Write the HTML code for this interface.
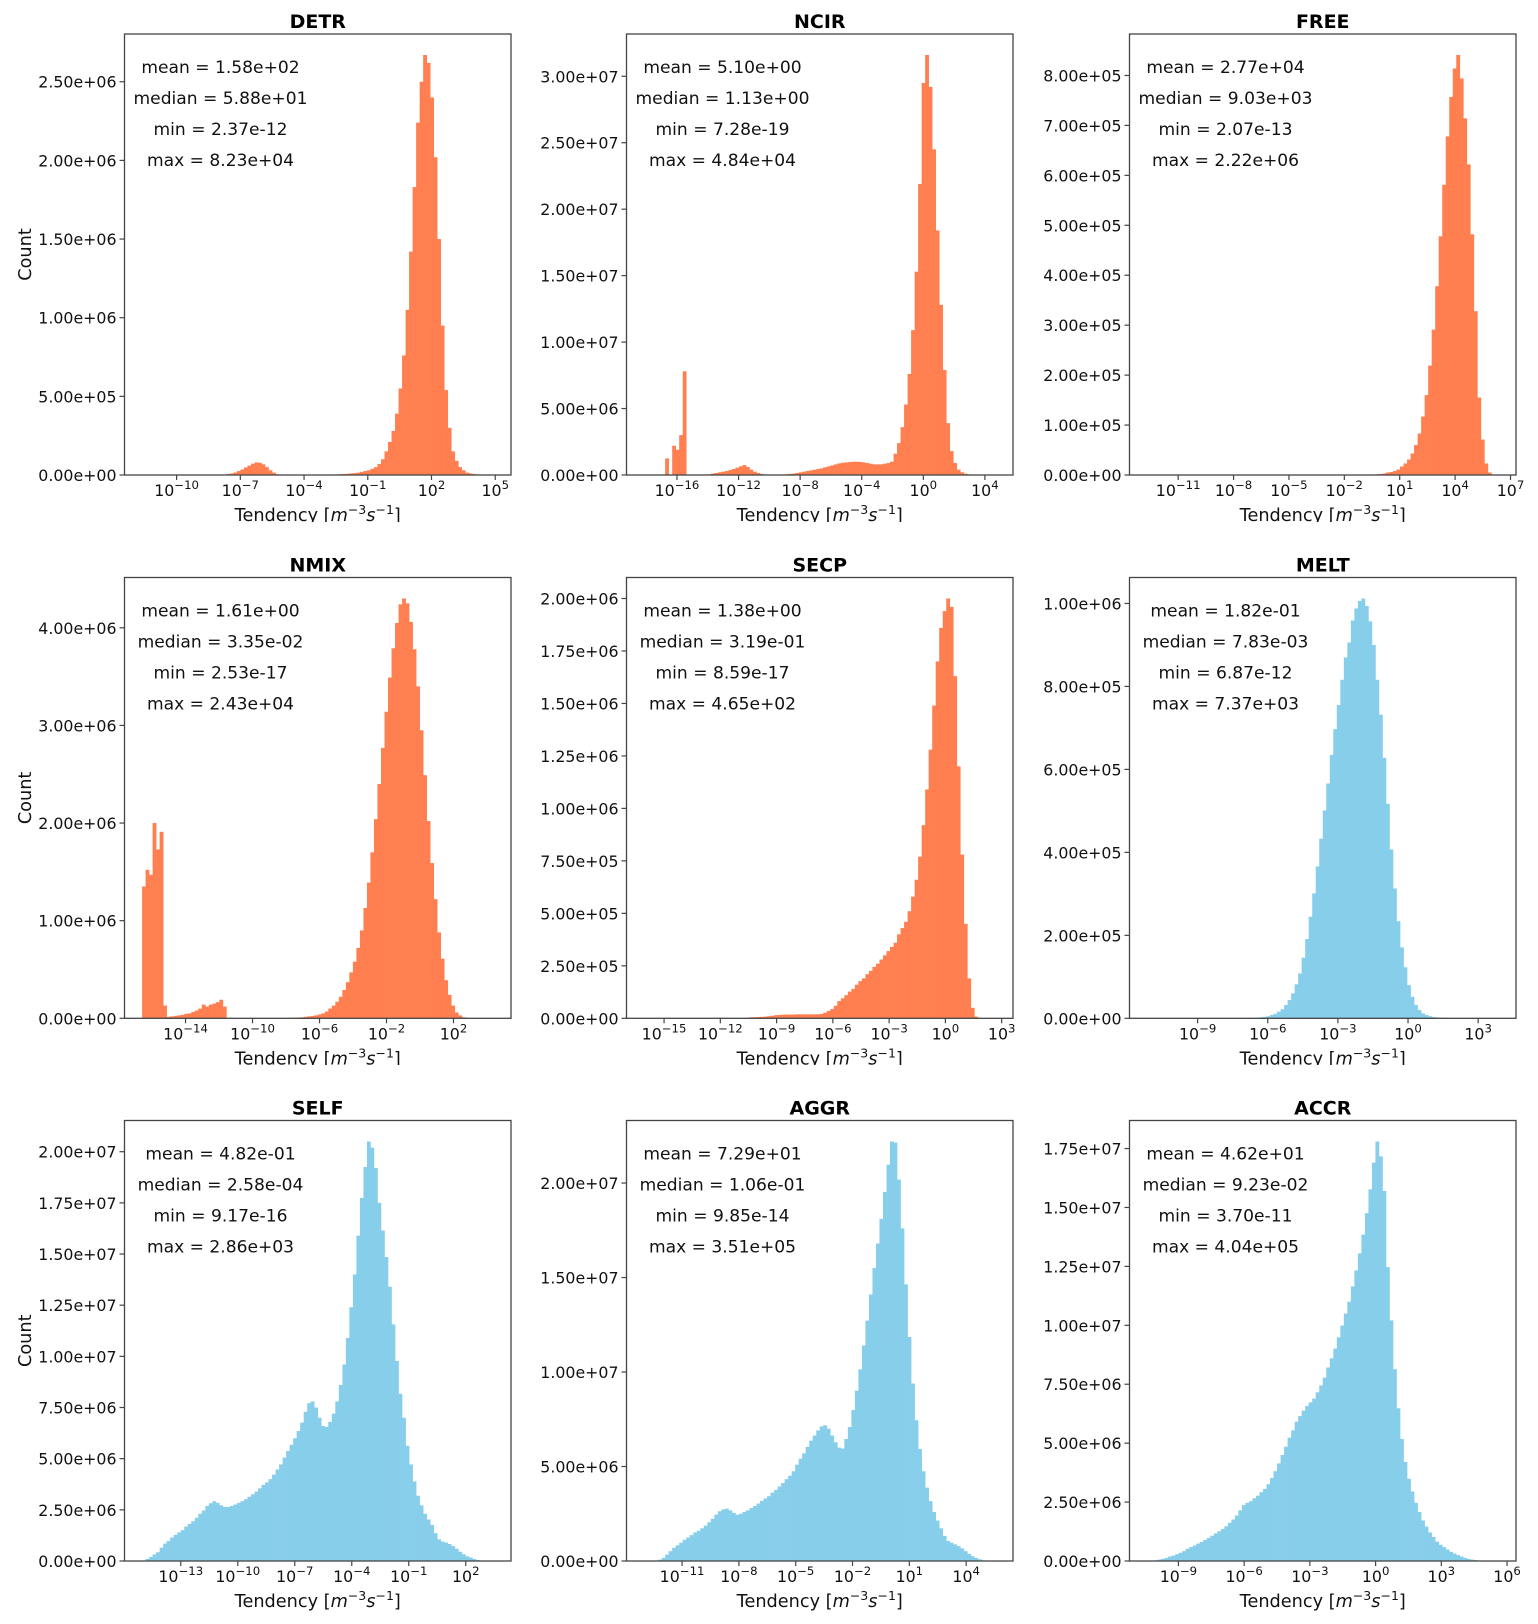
<!DOCTYPE html>
<html>
<head>
<meta charset="utf-8">
<style>
html,body{margin:0;padding:0;background:#fff;}
svg{display:block;font-family:"DejaVu Sans","Liberation Sans",sans-serif;}
</style>
</head>
<body>
<svg id="fig" width="1538" height="1624" viewBox="0 0 1538 1624" xmlns="http://www.w3.org/2000/svg"></svg>
<script>
// ---- data (counts per bin, 100 log-spaced bins between min and max) ----
const titles = ["DETR","NCIR","FREE","NMIX","SECP","MELT","SELF","AGGR","ACCR"];
const statMean   = ["1.58e+02","5.10e+00","2.77e+04","1.61e+00","1.38e+00","1.82e-01","4.82e-01","7.29e+01","4.62e+01"];
const statMedian = ["5.88e+01","1.13e+00","9.03e+03","3.35e-02","3.19e-01","7.83e-03","2.58e-04","1.06e-01","9.23e-02"];
const statMin    = ["2.37e-12","7.28e-19","2.07e-13","2.53e-17","8.59e-17","6.87e-12","9.17e-16","9.85e-14","3.70e-11"];
const statMax    = ["8.23e+04","4.84e+04","2.22e+06","2.43e+04","4.65e+02","7.37e+03","2.86e+03","3.51e+05","4.04e+05"];
const countScale = [1e6,1e7,1e5,1e6,1e6,1e5,1e6,1e6,1e6];
const yTickStep  = [5e5,5e6,1e5,1e6,2.5e5,2e5,2.5e6,5e6,2.5e6];
const xTickExps = [
  [-10,-7,-4,-1,2,5],
  [-16,-12,-8,-4,0,4],
  [-11,-8,-5,-2,1,4,7],
  [-14,-10,-6,-2,2],
  [-15,-12,-9,-6,-3,0,3],
  [-9,-6,-3,0,3],
  [-13,-10,-7,-4,-1,2],
  [-11,-8,-5,-2,1,4],
  [-9,-6,-3,0,3,6]
];
const z = n => Array(n).fill(0);
const detrCounts = [...z(23),
  .003,.006,.01,.016,.025,.035,.048,.06,.072,.08,.078,.068,.05,.03,.015,.005,
  ...z(13),
  .001,.002,.003,.004,.005,.006,.008,.01,.012,.015,.02,.025,.03,.04,.05,.07,.10,.15,.21,.28,.39,.55,.76,1.05,1.42,1.83,2.24,2.5,2.67,2.62,2.4,2.02,1.5,.95,.54,.3,.15,.09,.05,.03,.015,.01,.006,.004,.002,.001,.0005,.0005];
const ncirCounts = [...z(6), .125,0,.22,.19,.3,.78, ...z(6),
  .005,.01,.015,.02,.025,.03,.037,.045,.055,.065,.075,.06,.04,.025,.015,.008,.004,
  ...z(5),
  .005,.008,.01,.015,.02,.025,.03,.035,.04,.045,.05,.058,.065,.072,.08,.087,.092,.095,.097,.1,.1,.098,.095,.09,.085,.08,.08,.08,.085,.09,
  .1,.16,.24,.36,.53,.76,1.09,1.53,2.19,2.95,3.16,2.92,2.45,1.84,1.28,.79,.39,.18,.09,.04,.02,.01,.005,
  ...z(7)];
const freeCounts = [...z(63),
  .005,.01,.015,.02,.03,.05,.06,.08,.11,.17,.23,.31,.43,.6,.83,1.17,1.6,2.19,2.91,3.78,4.78,5.81,6.78,7.57,8.14,8.41,7.94,7.14,6.22,4.82,3.28,1.55,.71,.23,.05,.01,.005];
const nmixCounts = [1.35,1.52,1.47,2.0,1.73,1.91,.13,.015,.02,.025,.03,.035,.045,.05,.065,.08,.1,.14,.12,.14,.15,.165,.19,.12,
  ...z(16),
  .002,.003,.005,.006,.008,.01,.015,.02,.025,.03,.04,.05,.07,.10,.13,.17,.22,.29,.37,.47,.58,.72,.90,1.13,1.39,1.70,2.04,2.40,2.77,3.14,3.49,3.79,4.05,4.24,4.30,4.25,4.06,3.78,3.40,2.95,2.49,2.02,1.59,1.22,.88,.61,.39,.24,.13,.06,.03,.01,.005,
  ...z(7)];
const secpCounts = [...z(30),
  .005,.005,.006,.007,.008,.01,.012,.015,
  .016,.017,.018,.018,.018,.019,.019,.019,.019,.019,.019,
  .019,.021,.027,.035,.044,.06,.082,.095,.11,.127,.14,.16,.177,.19,.21,.226,.245,.26,.28,.30,.32,.34,.36,.40,.43,.46,.51,.58,.66,.77,.92,1.09,1.28,1.49,1.70,1.86,1.94,2.0,1.96,1.63,1.20,.78,.45,.19,.05,.008,
  ...z(5)];
const meltCounts = [...z(27),
  .002,.004,.006,.01,.015,.025,.035,.05,.08,.11,.16,.22,.32,.44,.60,.82,1.08,1.46,1.91,2.45,3.01,3.66,4.33,5.01,5.66,6.35,6.97,7.55,8.16,8.70,9.06,9.59,9.88,10.06,10.12,9.94,9.57,9.0,8.16,7.32,6.28,5.17,4.07,3.13,2.34,1.71,1.23,.80,.52,.32,.2,.12,.08,.05,.03,.02,.015,.01,.005,.003,
  ...z(13)];
const selfCounts = [.005,.1,.2,.32,.43,.65,.85,.98,1.15,1.28,1.4,1.51,1.68,1.81,1.94,2.11,2.31,2.47,2.69,2.82,2.92,2.84,2.72,2.64,2.64,2.69,2.76,2.84,2.92,3.02,3.14,3.26,3.39,3.55,3.72,3.84,4.0,4.22,4.47,4.72,5.05,5.38,5.68,6.0,6.35,6.76,7.29,7.71,7.8,7.5,7.0,6.6,6.55,
  6.8,7.2,7.8,8.6,9.6,10.9,12.4,14.0,15.9,17.74,19.25,20.5,20.2,19.2,17.5,16.15,14.85,13.4,11.56,9.78,8.17,7.0,5.63,4.72,3.89,3.19,2.72,2.31,2.03,1.76,1.36,1.06,.95,.9,.83,.73,.6,.45,.33,.23,.17,.1,.05,.02,.01,.005,.002];
const aggrCounts = [.002,.005,.01,.03,.07,.16,.34,.52,.7,.83,.97,1.12,1.24,1.37,1.51,1.6,1.73,1.87,2.05,2.23,2.45,2.63,2.73,2.77,2.68,2.55,2.45,2.5,2.59,2.68,2.8,2.91,3.04,3.18,3.31,3.43,3.62,3.76,3.94,4.12,4.33,4.51,4.75,5.1,5.41,5.7,6.04,6.37,6.64,6.91,7.12,7.18,7.0,6.64,6.28,6.0,5.95,6.46,7.09,7.99,9.01,10.14,11.4,12.72,14.1,15.5,16.8,18.1,19.53,20.97,22.2,22.14,20.18,17.6,14.64,11.85,9.39,7.45,5.92,4.75,3.88,3.17,2.59,2.14,1.73,1.33,1.06,.97,.88,.79,.67,.52,.38,.25,.16,.09,.04,.02,.01,.005];
const accrCounts = [.005,.01,.03,.06,.09,.13,.19,.23,.29,.35,.42,.52,.59,.66,.74,.81,.9,.98,1.07,1.17,1.26,1.36,1.47,1.62,1.76,1.93,2.15,2.37,2.47,2.54,2.66,2.77,2.92,3.06,3.26,3.52,3.81,4.14,4.5,4.85,5.23,5.54,5.91,6.15,6.38,6.58,6.73,6.89,7.16,7.45,7.78,8.21,8.6,9.01,9.49,9.99,10.5,11.0,11.65,12.33,13.05,13.85,14.76,15.77,16.9,17.8,17.17,15.7,12.47,10.21,8.14,6.48,5.18,4.2,3.49,2.95,2.47,2.08,1.72,1.46,1.21,1.02,.82,.69,.59,.49,.39,.32,.25,.19,.13,.09,.06,.04,.02,.01,.005,.003,0,0];
const allCounts = [detrCounts,ncirCounts,freeCounts,nmixCounts,secpCounts,meltCounts,selfCounts,aggrCounts,accrCounts];

// ---- layout ----
const colLeft = [124.5, 626.5, 1129.5];
const axW = 386.5;
const rowTop = [34, 577.5, 1120.5];
const rowBot = [475, 1018.3, 1561];
const ORANGE = "#FF7F50", BLUE = "#87CEEB";

const NS = "http://www.w3.org/2000/svg";
const svg = document.getElementById("fig");
function mk(tag, attrs, parent){
  const e = document.createElementNS(NS, tag);
  for (const k in attrs) e.setAttribute(k, attrs[k]);
  (parent || svg).appendChild(e);
  return e;
}
function fmtE(v){
  if (v === 0) return "0.00e+00";
  let s = v.toExponential(2);
  const m = s.match(/^(-?[\d.]+)e([+-])(\d+)$/);
  let ex = m[3]; if (ex.length < 2) ex = "0" + ex;
  return m[1] + "e" + m[2] + ex;
}
function sup(n){ return n < 0 ? "\u2212" + (-n) : "" + n; }

for (let p = 0; p < 9; p++){
  const r = Math.floor(p / 3), c = p % 3;
  const L = colLeft[c], R = L + axW, T = rowTop[r], B = rowBot[r];
  const counts = allCounts[p].map(v => v * countScale[p]);
  const lmin = Math.log10(parseFloat(statMin[p])), lmax = Math.log10(parseFloat(statMax[p]));
  const pad = (lmax - lmin) * 0.05;
  const x0 = lmin - pad, x1 = lmax + pad;
  const ymax = Math.max(...counts) * 1.05;
  const xs = lg => L + (lg - x0) / (x1 - x0) * axW;
  const ys = v => B - v / ymax * (B - T);
  const nb = counts.length, bw = (lmax - lmin) / nb;
  const color = p < 5 ? ORANGE : BLUE;

  const g = mk("g", {});
  
  

  for (let i = 0; i < nb; i++){
    if (counts[i] <= 0) continue;
    const xa = xs(lmin + i * bw), xb = xs(lmin + (i + 1) * bw);
    const rect = mk("rect", {x: xa.toFixed(2), y: ys(counts[i]).toFixed(2), width: (xb - xa + 0.3).toFixed(2), height: (B - ys(counts[i])).toFixed(2), fill: color}, g);
    
    
  }

  const fr = mk("rect", {x: L, y: T, width: axW, height: B - T, fill: "none", stroke: "#444", "stroke-width": 1.3}, g);
  
  

  const step = yTickStep[p];
  for (let k = 0; k * step <= ymax + 1e-9; k++){
    const v = k * step, y = ys(v);
    mk("line", {x1: L - 5, x2: L, y1: y, y2: y, stroke: "#444", "stroke-width": 1.2}, g);
    const t = mk("text", {x: L - 8, y: y + 6, "text-anchor": "end", "font-size": "15.8", fill: "#111"}, g);
    t.textContent = fmtE(v);
    
    
  }

  xTickExps[p].forEach(e => {
    const x = xs(e);
    mk("line", {x1: x, x2: x, y1: B, y2: B + 5, stroke: "#444", "stroke-width": 1.2}, g);
    const t = mk("text", {x: x, y: B + 21, "text-anchor": "middle", "font-size": "15.8", fill: "#111"}, g);
    
    
    const a = mk("tspan", {}, t); a.textContent = "10";
    const b = mk("tspan", {dy: "-7", "font-size": "11.7"}, t); b.textContent = sup(e);
  });

  const tt = mk("text", {x: L + axW / 2, y: T - 6, "text-anchor": "middle", "font-size": "19", "font-weight": "bold", fill: "#000"}, g);
  tt.textContent = titles[p];
  
  

  const lines = ["mean = " + statMean[p], "median = " + statMedian[p], "min = " + statMin[p], "max = " + statMax[p]];
  lines.forEach((s, k) => {
    const t = mk("text", {x: L + 96, y: T + 39 + 31 * k, "text-anchor": "middle", "font-size": "17.1", fill: "#111"}, g);
    t.textContent = s;
    
    
  });

  const xl = mk("text", {x: L + axW / 2, y: B + 46, "text-anchor": "middle", "font-size": "17.7", fill: "#111"}, g);
  
  
  const s1 = mk("tspan", {}, xl); s1.textContent = "Tendency [";
  const s2 = mk("tspan", {"font-style": "italic"}, xl); s2.textContent = "m";
  const s3 = mk("tspan", {dy: "-7", "font-size": "12.5"}, xl); s3.textContent = "\u22123";
  const s4 = mk("tspan", {dy: "7", "font-style": "italic"}, xl); s4.textContent = "s";
  const s5 = mk("tspan", {dy: "-7", "font-size": "12.5"}, xl); s5.textContent = "\u22121";
  const s6 = mk("tspan", {dy: "7"}, xl); s6.textContent = "]";

  if (c === 0){
    const cy = (T + B) / 2;
    const yl = mk("text", {x: 25, y: cy, "text-anchor": "middle", "font-size": "17.7", fill: "#111", transform: "rotate(-90 25 " + cy + ")", dy: "6"}, g);
    yl.textContent = "Count";
    
    
  }
}
mk("rect", {x: 0, y: 522, width: 1538, height: 20, fill: "#fff"});
mk("rect", {x: 0, y: 1065, width: 1538, height: 20, fill: "#fff"});
</script>
</body>
</html>
